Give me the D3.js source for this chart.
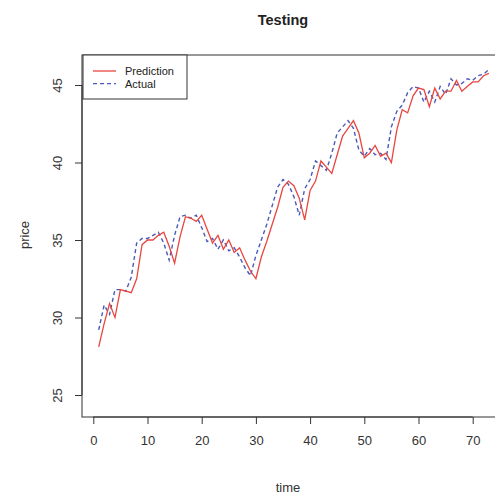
<!DOCTYPE html>
<html><head><meta charset="utf-8">
<script src="https://cdn.jsdelivr.net/npm/d3@7"></script>
<style>body{margin:0;background:#fff}svg{display:block;font-family:"Liberation Sans",Arial,sans-serif}</style>
</head><body><svg id="c" width="495" height="500"></svg>
<script>
const time = d3.range(1, 74);
const actual = [29.2,30.8,30.2,31.8,31.8,31.7,32.6,34.8,35.1,35.1,35.3,35.5,34.8,33.7,35.3,36.5,36.6,36.4,36.6,35.8,34.9,35.1,34.4,35.0,34.3,34.5,33.9,33.2,32.7,34.0,35.0,36.0,37.2,38.4,38.9,38.6,37.8,36.6,38.3,38.9,40.1,39.8,39.5,40.6,41.9,42.3,42.7,42.2,40.8,40.4,40.9,40.5,40.6,40.2,42.3,43.3,43.7,44.5,44.9,44.8,43.9,44.6,43.9,44.9,44.4,45.4,45.0,45.1,45.4,45.3,45.6,45.7,46.0];
const prediction = [28.1,29.6,30.9,30.0,31.8,31.7,31.6,32.5,34.7,35.0,35.0,35.3,35.5,34.6,33.5,35.2,36.5,36.4,36.2,36.6,35.7,34.8,35.3,34.4,35.0,34.2,34.5,33.7,33.0,32.5,33.9,34.9,36.0,37.1,38.4,38.8,38.5,37.7,36.3,38.2,38.8,40.1,39.7,39.3,40.5,41.7,42.2,42.7,41.9,40.3,40.6,41.1,40.4,40.6,40.0,42.1,43.4,43.2,44.3,44.8,44.7,43.6,44.8,44.1,44.6,44.6,45.3,44.6,44.9,45.2,45.2,45.6,45.75];
const xTicks = [0,10,20,30,40,50,60,70];
const yTicks = [25,30,35,40,45];
const seriesNames = ["Prediction","Actual"];

const svg = d3.select("#c");
const box = {l:82, t:55, r:505, b:417};
const x = d3.scaleLinear().domain([0,70]).range([93.3,472.7]);
const y = d3.scaleLinear().domain([25,45]).range([395,85]);
const ink = "#333";

svg.append("text").attr("x",283).attr("y",25).attr("text-anchor","middle")
  .attr("font-weight","bold").attr("font-size",14.5).attr("fill","#222").text("Testing");

const line = (vals) => d3.line().x((d,i)=>x(time[i])).y(d=>y(d))(vals);
svg.append("path").attr("d",line(actual)).attr("fill","none").attr("stroke","#4a5ab8")
  .attr("stroke-width",1.4).attr("stroke-dasharray","4,3");
svg.append("path").attr("d",line(prediction)).attr("fill","none").attr("stroke","#e8463f")
  .attr("stroke-width",1.3);

svg.append("rect").attr("x",box.l).attr("y",box.t).attr("width",box.r-box.l).attr("height",box.b-box.t)
  .attr("fill","none").attr("stroke",ink).attr("stroke-width",1);

const xa = svg.append("g").attr("transform",`translate(0,${box.b})`)
  .call(d3.axisBottom(x).tickValues(xTicks).tickSize(7).tickPadding(12));
xa.select(".domain").attr("d",`M${x(0)},0H${x(70)}`).attr("stroke",ink);
xa.selectAll("line").attr("stroke",ink);
xa.selectAll("text").attr("font-size",13).attr("fill",ink).attr("font-family","Liberation Sans, Arial, sans-serif");

const ya = svg.append("g").attr("transform",`translate(${box.l},0)`)
  .call(d3.axisLeft(y).tickValues(yTicks).tickSize(7).tickPadding(0));
ya.select(".domain").attr("d",`M0,${y(25)}V${y(45)}`).attr("stroke",ink);
ya.selectAll("line").attr("stroke",ink);
ya.selectAll(".tick text").attr("font-size",13).attr("fill",ink).attr("font-family","Liberation Sans, Arial, sans-serif")
  .attr("transform","rotate(-90)").attr("x",0).attr("y",-20).attr("dy",0).attr("text-anchor","middle");

svg.append("text").attr("x",288).attr("y",492).attr("text-anchor","middle").attr("font-size",13).attr("fill",ink).text("time");
svg.append("text").attr("transform","translate(29,235) rotate(-90)").attr("text-anchor","middle").attr("font-size",13).attr("fill",ink).text("price");

// legend
const lg = svg.append("g");
lg.append("rect").attr("x",83).attr("y",box.t).attr("width",104).attr("height",44).attr("fill","#fff").attr("stroke",ink);
const lcol = ["#e8463f","#4a5ab8"], ldash=[null,"4,3"];
seriesNames.forEach((n,i)=>{
  const yy = 71 + i*12.7;
  lg.append("line").attr("x1",93).attr("x2",116).attr("y1",yy).attr("y2",yy).attr("stroke",lcol[i])
    .attr("stroke-width",1.3).attr("stroke-dasharray",ldash[i]);
  lg.append("text").attr("x",125).attr("y",yy+4).attr("font-size",11).attr("fill","#222").text(n);
});
</script></body></html>
